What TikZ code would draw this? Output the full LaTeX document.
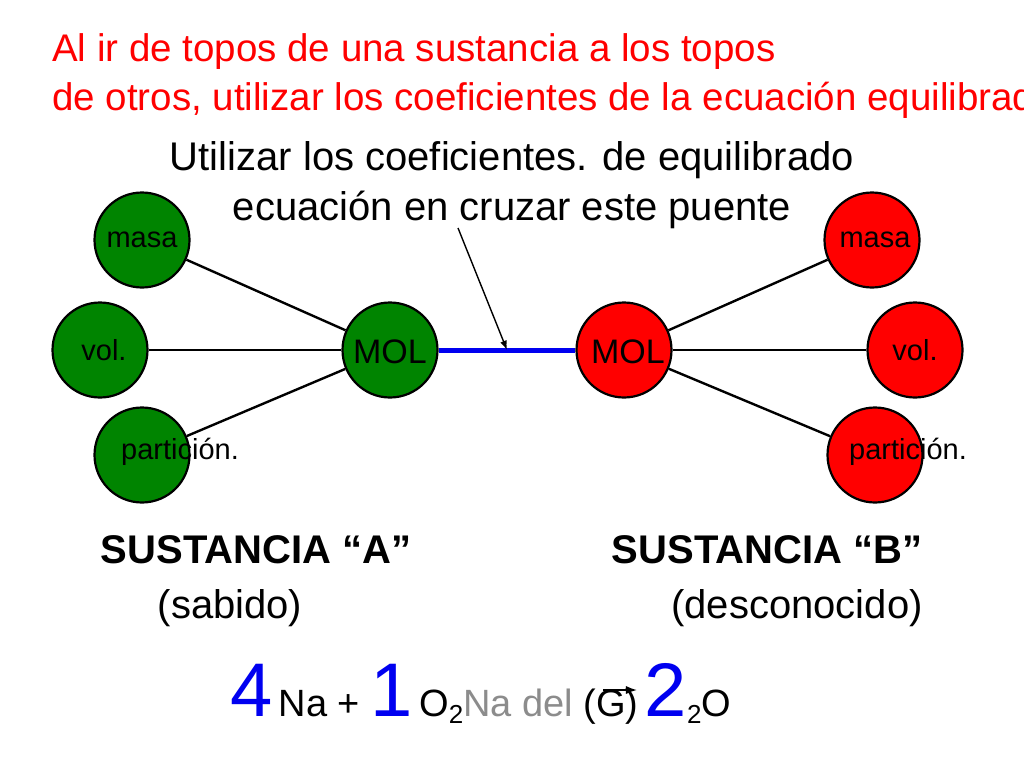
\documentclass[tikz,border=0pt]{standalone}
\usepackage{fontspec}
\setmainfont{Liberation Sans}
\usetikzlibrary{arrows.meta}
\definecolor{ballgreen}{RGB}{0,132,0}
\definecolor{ballred}{RGB}{255,0,0}
\definecolor{eqblue}{RGB}{0,0,240}
\begin{document}
\begin{tikzpicture}[x=1pt,y=-1pt,>=Latex,
		every node/.style={inner sep=0pt},
		ball/.style={circle,draw,line width=2.2pt,minimum size=95pt},
		balltext/.style={font=\fontsize{29}{29}\selectfont},
		link/.style={line width=2.4pt}]
		\useasboundingbox (0,0) rectangle (1024,768);
		
		\node[anchor=base west,text=red,font=\fontsize{38.5}{38.5}\selectfont] (title) at (52,62)
		{Al ir de topos de una sustancia a los topos};
		\node[anchor=base west,text=red,font=\fontsize{38.5}{38.5}\selectfont] (title2) at (52,110)
		{de otros, utilizar los coeficientes de la ecuación equilibrada};
		\node[align=center,font=\fontsize{40}{50}\selectfont] (note) at (512,185)
		{Utilizar los coeficientes. de equilibrado\\ecuación en cruzar este puente};
		
		\node[ball,fill=ballgreen] (masaA) at (142,240) {};
		\node[ball,fill=ballgreen] (volA) at (100,350) {};
		\node[ball,fill=ballgreen] (partA) at (142,455) {};
		\node[ball,fill=ballgreen] (molA) at (390,350) {};
		\node[ball,fill=ballred] (masaB) at (872,240) {};
		\node[ball,fill=ballred] (volB) at (915,350) {};
		\node[ball,fill=ballred] (partB) at (875,455) {};
		\node[ball,fill=ballred] (molB) at (624,350) {};
		
		\draw[link] (masaA) -- (molA);
		\draw[link] (volA) -- (molA);
		\draw[link] (partA) -- (molA);
		\draw[link] (masaB) -- (molB);
		\draw[link] (volB) -- (molB);
		\draw[link] (partB) -- (molB);
		\draw[line width=5pt,eqblue] (molA) -- coordinate (bridge) (molB);
		\draw[->,line width=1.4pt] (458,228) -- (bridge);
		
		\node[balltext] at (142,240) {masa};
		\node[balltext] at (104,350) {vol.};
		\node[balltext] at (180,452) {partición.};
		\node[balltext] at (875,240) {masa};
		\node[balltext] at (915,350) {vol.};
		\node[balltext] at (908,452) {partición.};
		\node[font=\fontsize{34}{34}\selectfont] at (390,352) {MOL};
		\node[font=\fontsize{34}{34}\selectfont] at (628,352) {MOL};
		
		\node[font=\bfseries\fontsize{40}{40}\selectfont] (subA) at (256,550) {SUSTANCIA “A”};
		\node[font=\bfseries\fontsize{40}{40}\selectfont] (subB) at (767,550) {SUSTANCIA “B”};
		\node[font=\fontsize{40}{40}\selectfont] (knownA) at (230,608) {(sabido)};
		\node[font=\fontsize{40}{40}\selectfont] (unknownB) at (797,608) {(desconocido)};
		
		\node[anchor=base west,font=\fontsize{38}{38}\selectfont] (eq) at (230,716)
		{{\color{eqblue}\fontsize{76}{76}\selectfont 4}\,Na + {\color{eqblue}\fontsize{76}{76}\selectfont 1}\,O\raisebox{-7pt}{\fontsize{26}{26}\selectfont 2}{\color[gray]{0.55}Na del} (G)\,{\color{eqblue}\fontsize{76}{76}\selectfont 2}\raisebox{-7pt}{\fontsize{26}{26}\selectfont 2}O};
		\draw[->,line width=1.8pt] (603,690) -- (637,690);
\end{tikzpicture}
\end{document}
